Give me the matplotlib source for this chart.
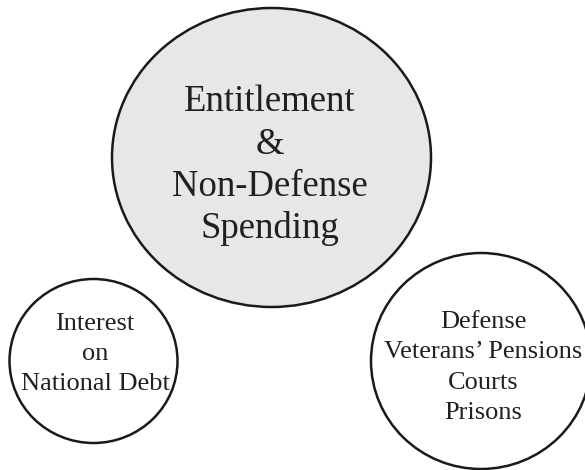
import matplotlib
matplotlib.use("Agg")
import matplotlib.pyplot as plt
from matplotlib.patches import Ellipse

# Data: circle labels (one list of lines per circle)
main_lines = ["Entitlement", "&", "Non-Defense", "Spending"]
interest_lines = ["Interest", "on", "National Debt"]
defense_lines = ["Defense", "Veterans\u2019 Pensions", "Courts", "Prisons"]

plt.rcParams['font.family'] = ['Liberation Serif', 'DejaVu Serif']

fig = plt.figure(figsize=(5.85, 4.70), dpi=100)
ax = fig.add_axes([0, 0, 1, 1])
ax.set_xlim(0, 585)
ax.set_ylim(470, 0)
ax.axis('off')

txt_color = '#231f20'
edge = '#1a1a1a'

# big circle
ax.add_patch(Ellipse((271.5, 157.5), 319, 299, facecolor='#e6e7e8',
                     edgecolor=edge, lw=1.8, zorder=1))
# left circle
ax.add_patch(Ellipse((93.5, 361), 168, 164, facecolor='white',
                     edgecolor=edge, lw=1.8, zorder=1))
# right circle
ax.add_patch(Ellipse((481, 361), 220, 216, facecolor='white',
                     edgecolor=edge, lw=1.8, zorder=1))

def draw_lines(lines, cx, y0, dy, size):
    for i, s in enumerate(lines):
        ax.text(cx, y0 + i * dy, s, ha='center', va='baseline',
                fontsize=size, color=txt_color, zorder=2)

draw_lines(main_lines, 270, 111, 42.5, 26.5)
draw_lines(interest_lines, 95, 329.5, 30.5, 19)
draw_lines(defense_lines, 483, 328, 30.3, 19)

fig.savefig('out.png', dpi=100, facecolor='white')
